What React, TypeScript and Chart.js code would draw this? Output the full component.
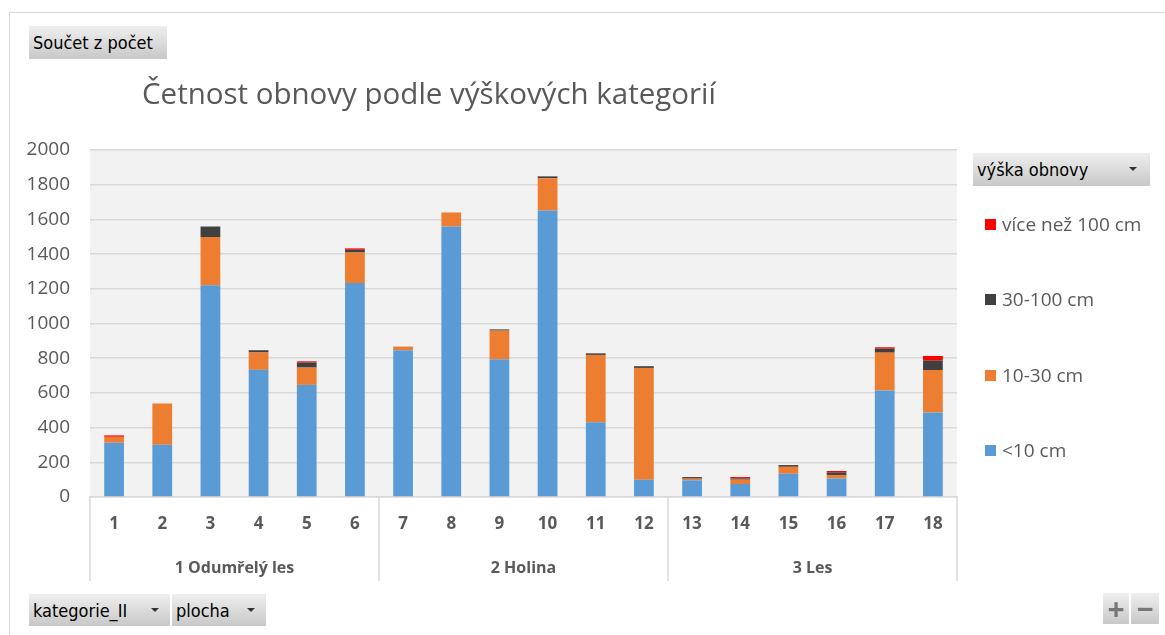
import React, { useEffect, useRef } from "react";
import { Chart, registerables } from "chart.js";

Chart.register(...registerables);

const categories = ["1", "2", "3", "4", "5", "6", "7", "8", "9", "10", "11", "12", "13", "14", "15", "16", "17", "18"];
const groupLabels = ["1 Odumřelý les", "2 Holina", "3 Les"];
const groupSizes = [6, 6, 6];

const seriesNames = ["<10 cm", "10-30 cm", "30-100 cm", "více než 100 cm"];
const seriesColors = ["#5B9BD5", "#ED7D31", "#404040", "#FF0000"];

const under10 = [313, 301, 1220, 733, 646, 1233, 846, 1559, 794, 1651, 431, 100, 96, 75, 134, 107, 614, 487];
const from10to30 = [34, 238, 278, 100, 100, 176, 21, 81, 165, 186, 388, 644, 10, 25, 40, 20, 218, 245];
const from30to100 = [0, 0, 61, 13, 29, 16, 0, 0, 7, 11, 9, 10, 9, 7, 10, 15, 23, 54];
const over100 = [8, 0, 0, 0, 7, 8, 0, 0, 0, 0, 0, 0, 0, 8, 0, 8, 8, 27];

const yTicks = [0, 200, 400, 600, 800, 1000, 1200, 1400, 1600, 1800, 2000];

const seriesValues = [under10, from10to30, from30to100, over100];

const FONT = "'Open Sans', 'Noto Sans', sans-serif";
const BTN_FONT = "'Liberation Sans Narrow', 'DejaVu Sans Condensed', 'Liberation Sans', sans-serif";

const btnStyle: React.CSSProperties = {
  position: "absolute",
  background: "linear-gradient(#EFEFEF, #C8C8C8)",
  boxSizing: "border-box",
  fontFamily: BTN_FONT,
  fontSize: 18,
  color: "#000",
  display: "flex",
  alignItems: "center",
  whiteSpace: "nowrap",
};

const Arrow = ({ left }: { left: number }) => (
  <div
    style={{
      position: "absolute",
      left,
      top: 14,
      width: 0,
      height: 0,
      borderLeft: "4px solid transparent",
      borderRight: "4px solid transparent",
      borderTop: "4px solid #333",
    }}
  />
);

export default function App() {
  const canvasRef = useRef<HTMLCanvasElement | null>(null);

  useEffect(() => {
    const canvas = canvasRef.current;
    if (!canvas) return;

    const bgPlugin = {
      id: "plotBg",
      beforeDraw(chart: any) {
        const { ctx, chartArea } = chart;
        ctx.save();
        ctx.fillStyle = "#F2F2F2";
        ctx.fillRect(chartArea.left, chartArea.top, chartArea.right - chartArea.left, chartArea.bottom - chartArea.top);
        ctx.restore();
      },
    };

    const groupPlugin = {
      id: "groups",
      afterDraw(chart: any) {
        const { ctx, chartArea } = chart;
        const x = chart.scales.x;
        const half = (x.getPixelForValue(1) - x.getPixelForValue(0)) / 2;
        const top = chartArea.bottom;
        const bottom = 581;
        ctx.save();
        ctx.strokeStyle = "#D9D9D9";
        ctx.lineWidth = 1.5;
        let start = 0;
        const bounds: number[] = [x.getPixelForValue(0) - half];
        groupSizes.forEach((n) => {
          start += n;
          bounds.push(x.getPixelForValue(start - 1) + half);
        });
        bounds.forEach((bx) => {
          ctx.beginPath();
          ctx.moveTo(bx, top);
          ctx.lineTo(bx, bottom);
          ctx.stroke();
        });
        ctx.fillStyle = "#595959";
        ctx.font = `bold 16px ${FONT}`;
        ctx.textAlign = "center";
        ctx.textBaseline = "middle";
        groupLabels.forEach((g, i) => {
          ctx.fillText(g, (bounds[i] + bounds[i + 1]) / 2, 568);
        });
        ctx.restore();
      },
    };

    const chart = new Chart(canvas, {
      type: "bar",
      data: {
        labels: categories,
        datasets: seriesNames.map((name, i) => ({
          label: name,
          data: seriesValues[i],
          backgroundColor: seriesColors[i],
          borderWidth: 0,
          barPercentage: 0.41,
          categoryPercentage: 1,
        })),
      },
      options: {
        animation: false,
        responsive: false,
        maintainAspectRatio: false,
        layout: { padding: { left: 0, top: 150, right: 208, bottom: 0 } },
        plugins: {
          legend: { display: false },
          title: { display: false },
          tooltip: { enabled: false },
        },
        scales: {
          x: {
            stacked: true,
            grid: { display: false, drawTicks: false },
            border: { display: true, color: "#D9D9D9", width: 1.5 },
            ticks: {
              color: "#595959",
              font: { family: FONT, size: 17, weight: "bold" },
              padding: 17,
              maxRotation: 0,
              autoSkip: false,
            },
            afterFit(scale: any) {
              scale.height = 138;
            },
          },
          y: {
            stacked: true,
            min: 0,
            max: 2000,
            afterBuildTicks(scale: any) {
              scale.ticks = yTicks.map((v) => ({ value: v }));
            },
            grid: { color: "#D9D9D9", lineWidth: 1.5, drawTicks: false },
            border: { display: false },
            ticks: {
              color: "#595959",
              font: { family: FONT, size: 19 },
              padding: 20,
              callback: (v: any) => String(v),
            },
            afterFit(scale: any) {
              scale.width = 90;
            },
          },
        },
      },
      plugins: [bgPlugin, groupPlugin],
    });

    return () => {
      chart.destroy();
    };
  }, []);

  const legendItems = seriesNames.map((n, i) => ({ name: n, color: seriesColors[i] })).reverse();
  const legendY = [224, 299, 375, 450];

  return (
    <div style={{ position: "fixed", left: 0, top: 0, width: 1165, height: 635, background: "#fff", overflow: "hidden" }}>
      <div
        style={{
          position: "absolute",
          left: 9,
          top: 12,
          width: 1170,
          height: 640,
          border: "1.5px solid #D9D9D9",
          boxSizing: "border-box",
        }}
      />
      <canvas ref={canvasRef} width={1165} height={635} style={{ position: "absolute", left: 0, top: 0 }} />
      <div
        style={{
          position: "absolute",
          left: 142,
          top: 73,
          fontFamily: FONT,
          fontSize: 29.5,
          color: "#595959",
          whiteSpace: "nowrap",
          lineHeight: "40px",
        }}
      >
        Četnost obnovy podle výškových kategorií
      </div>
      <div style={{ ...btnStyle, left: 29, top: 26, width: 138, height: 33, paddingLeft: 4 }}>Součet z počet</div>
      <div style={{ ...btnStyle, left: 973, top: 153, width: 177, height: 33, paddingLeft: 4 }}>
        výška obnovy
        <Arrow left={156} />
      </div>
      <div style={{ ...btnStyle, left: 29, top: 594, width: 141, height: 32, paddingLeft: 4 }}>
        kategorie_II
        <Arrow left={122} />
      </div>
      <div style={{ ...btnStyle, left: 172, top: 594, width: 94, height: 32, paddingLeft: 4 }}>
        plocha
        <Arrow left={75} />
      </div>
      <div style={{ ...btnStyle, left: 1103, top: 593, width: 26, height: 31, justifyContent: "center", fontSize: 30, color: "#777", fontFamily: FONT, fontWeight: "bold" }}>+</div>
      <div style={{ ...btnStyle, left: 1131, top: 593, width: 28, height: 31, justifyContent: "center", fontSize: 30, color: "#777", fontFamily: FONT, fontWeight: "bold" }}>−</div>
      {legendItems.map((it, i) => (
        <div
          key={it.name}
          style={{
            position: "absolute",
            left: 985,
            top: legendY[i] - 13,
            height: 26,
            display: "flex",
            alignItems: "center",
            fontFamily: FONT,
            fontSize: 19,
            color: "#595959",
            whiteSpace: "nowrap",
          }}
        >
          <span style={{ display: "inline-block", width: 11, height: 11, background: it.color, marginRight: 6 }} />
          {it.name}
        </div>
      ))}
    </div>
  );
}
